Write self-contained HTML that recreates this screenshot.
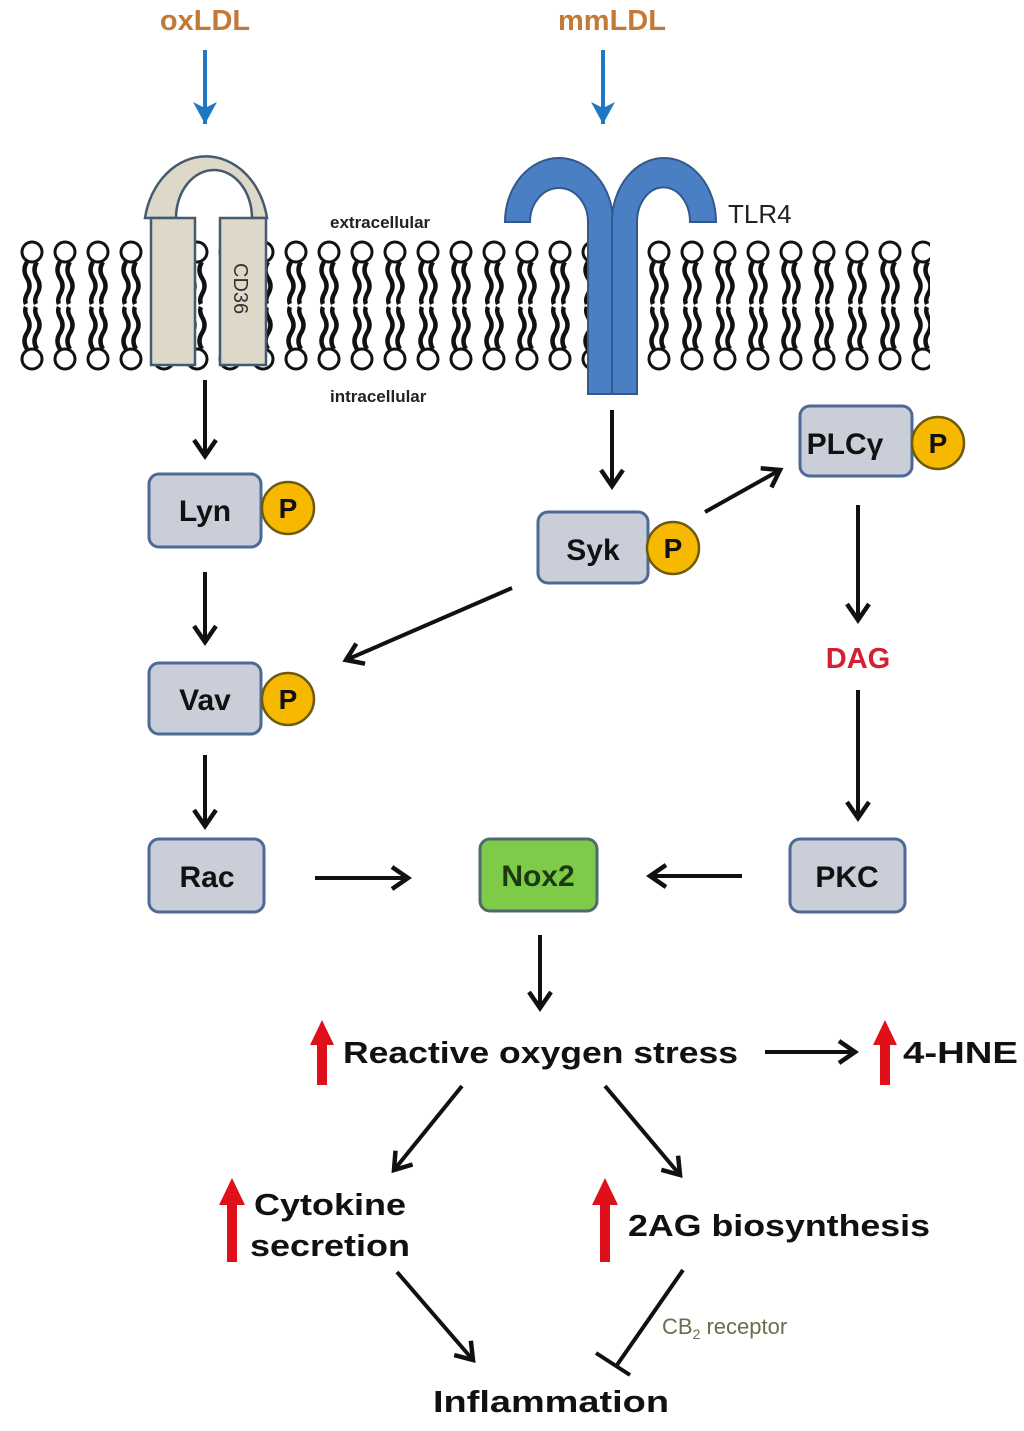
<!DOCTYPE html>
<html><head><meta charset="utf-8"><style>
html,body{margin:0;padding:0;background:#fff;}
svg{display:block;}
text{font-family:"Liberation Sans",sans-serif;}
</style></head><body>
<svg width="1024" height="1431" viewBox="0 0 1024 1431" xmlns="http://www.w3.org/2000/svg">
<defs>
<pattern id="up" x="15" y="238" width="33" height="68" patternUnits="userSpaceOnUse">
<circle cx="17" cy="14" r="10" fill="#fff" stroke="#111" stroke-width="3"/>
<path d="M12 24 q-5 8 0 16 q5 8 0 16 q-3 6 -1 10" fill="none" stroke="#111" stroke-width="4.5"/>
<path d="M22 24 q-5 8 0 16 q5 8 0 16 q-3 6 -1 10" fill="none" stroke="#111" stroke-width="4.5"/>
</pattern>
<pattern id="dn" x="15" y="306" width="33" height="68" patternUnits="userSpaceOnUse">
<circle cx="17" cy="53" r="10" fill="#fff" stroke="#111" stroke-width="3"/>
<path d="M12 43 q-5 -8 0 -16 q5 -8 0 -16 q-3 -6 -1 -10" fill="none" stroke="#111" stroke-width="4.5"/>
<path d="M22 43 q-5 -8 0 -16 q5 -8 0 -16 q-3 -6 -1 -10" fill="none" stroke="#111" stroke-width="4.5"/>
</pattern>
<marker id="ar" markerWidth="28" markerHeight="28" refX="22" refY="14" orient="auto" markerUnits="userSpaceOnUse">
<path d="M6 3 L22 14 L6 25" fill="none" stroke="#111" stroke-width="4.5"/>
</marker>
<marker id="ab" markerWidth="30" markerHeight="30" refX="24" refY="15" orient="auto" markerUnits="userSpaceOnUse">
<path d="M2 3 L24 15 L2 27 L8 15 Z" fill="#1f78c4"/>
</marker>
</defs>

<text x="205" y="30" text-anchor="middle" font-size="29" font-weight="bold" fill="#c27a38">oxLDL</text>
<text x="612" y="30" text-anchor="middle" font-size="29" font-weight="bold" fill="#c27a38">mmLDL</text>
<line x1="205" y1="50" x2="205" y2="124" stroke="#1f78c4" stroke-width="4" marker-end="url(#ab)"/>
<line x1="603" y1="50" x2="603" y2="124" stroke="#1f78c4" stroke-width="4" marker-end="url(#ab)"/>

<rect x="15" y="238" width="915" height="68" fill="url(#up)"/>
<rect x="15" y="306" width="915" height="68" fill="url(#dn)"/>

<text x="330" y="228" font-size="17" font-weight="bold" fill="#222">extracellular</text>
<text x="330" y="402" font-size="17" font-weight="bold" fill="#222">intracellular</text>

<path d="M145 218 A62 75 0 0 1 267 218 L252 218 A38 48 0 0 0 176 218 Z" fill="#ddd8c8" stroke="#445a70" stroke-width="2.5"/>
<rect x="151" y="218" width="44" height="147" fill="#ddd8c8" stroke="#445a70" stroke-width="2.5"/>
<rect x="220" y="218" width="46" height="147" fill="#ddd8c8" stroke="#445a70" stroke-width="2.5"/>
<text x="0" y="0" font-size="20" fill="#333" transform="translate(234,263) rotate(90)">CD36</text>

<g fill="#4a7fc4" stroke="#33598c" stroke-width="2">
<path d="M505 222 A54 64 0 0 1 613 222 L613 394 L588 394 L588 222 A29 34 0 0 0 530 222 Z"/>
<path d="M612 222 A52 64 0 0 1 716 222 L690 222 A26 34 0 0 0 637 222 L637 394 L612 394 Z"/>
</g>
<text x="728" y="223" font-size="26" fill="#222">TLR4</text>

<g stroke="#4e6a94" stroke-width="3" fill="#c9ced8">
<rect x="149" y="474" width="112" height="73" rx="10"/>
<rect x="538" y="512" width="110" height="71" rx="10"/>
<rect x="800" y="406" width="112" height="70" rx="10"/>
<rect x="149" y="663" width="112" height="71" rx="10"/>
<rect x="149" y="839" width="115" height="73" rx="10"/>
<rect x="790" y="839" width="115" height="73" rx="10"/>
</g>
<rect x="480" y="839" width="117" height="72" rx="10" fill="#7dcb48" stroke="#4e6a70" stroke-width="3"/>
<g fill="#f6b900" stroke="#6d5a10" stroke-width="2.5">
<circle cx="288" cy="508" r="26"/>
<circle cx="673" cy="548" r="26"/>
<circle cx="938" cy="443" r="26"/>
<circle cx="288" cy="699" r="26"/>
</g>
<g font-size="30" font-weight="bold" fill="#111" text-anchor="middle">
<text x="205" y="521">Lyn</text>
<text x="593" y="560">Syk</text>
<text x="845" y="454">PLCγ</text>
<text x="205" y="710">Vav</text>
<text x="207" y="887">Rac</text>
<text x="847" y="887">PKC</text>
<text x="538" y="886" fill="#1b3a12">Nox2</text>
</g>
<g font-size="28" font-weight="bold" fill="#111" text-anchor="middle">
<text x="288" y="518">P</text>
<text x="673" y="558">P</text>
<text x="938" y="453">P</text>
<text x="288" y="709">P</text>
</g>
<text x="858" y="668" text-anchor="middle" font-size="29" font-weight="bold" fill="#d42030">DAG</text>

<g stroke="#111" stroke-width="4" marker-end="url(#ar)">
<line x1="205" y1="380" x2="205" y2="456"/>
<line x1="205" y1="572" x2="205" y2="642"/>
<line x1="205" y1="755" x2="205" y2="826"/>
<line x1="612" y1="410" x2="612" y2="486"/>
<line x1="705" y1="512" x2="780" y2="470"/>
<line x1="512" y1="588" x2="346" y2="660"/>
<line x1="858" y1="505" x2="858" y2="620"/>
<line x1="858" y1="690" x2="858" y2="818"/>
<line x1="315" y1="878" x2="408" y2="878"/>
<line x1="742" y1="876" x2="650" y2="876"/>
<line x1="540" y1="935" x2="540" y2="1008"/>
<line x1="765" y1="1052" x2="855" y2="1052"/>
<line x1="462" y1="1086" x2="394" y2="1170"/>
<line x1="605" y1="1086" x2="680" y2="1175"/>
<line x1="397" y1="1272" x2="473" y2="1360"/>
</g>
<line x1="683" y1="1270" x2="617" y2="1365" stroke="#111" stroke-width="4"/>
<line x1="596" y1="1353" x2="630" y2="1375" stroke="#111" stroke-width="4"/>

<g fill="#e0101a">
<path d="M317 1085 L317 1045 L310 1045 L322 1020 L334 1045 L327 1045 L327 1085 Z"/>
<path d="M880 1085 L880 1045 L873 1045 L885 1020 L897 1045 L890 1045 L890 1085 Z"/>
<path d="M227 1262 L227 1205 L219 1205 L232 1178 L245 1205 L237 1205 L237 1262 Z"/>
<path d="M600 1262 L600 1205 L592 1205 L605 1178 L618 1205 L610 1205 L610 1262 Z"/>
</g>

<g font-size="31" font-weight="bold" fill="#111">
<text x="343" y="1063" textLength="395" lengthAdjust="spacingAndGlyphs">Reactive oxygen stress</text>
<text x="903" y="1063" textLength="115" lengthAdjust="spacingAndGlyphs">4-HNE</text>
<text x="254" y="1215" textLength="152" lengthAdjust="spacingAndGlyphs">Cytokine</text>
<text x="250" y="1256" textLength="160" lengthAdjust="spacingAndGlyphs">secretion</text>
<text x="628" y="1236" textLength="302" lengthAdjust="spacingAndGlyphs">2AG biosynthesis</text>
<text x="433" y="1412" textLength="236" lengthAdjust="spacingAndGlyphs">Inflammation</text>
</g>
<text x="662" y="1334" font-size="22" fill="#66704a">CB<tspan font-size="14" dy="5">2</tspan><tspan dy="-5"> receptor</tspan></text>
</svg>
</body></html>
